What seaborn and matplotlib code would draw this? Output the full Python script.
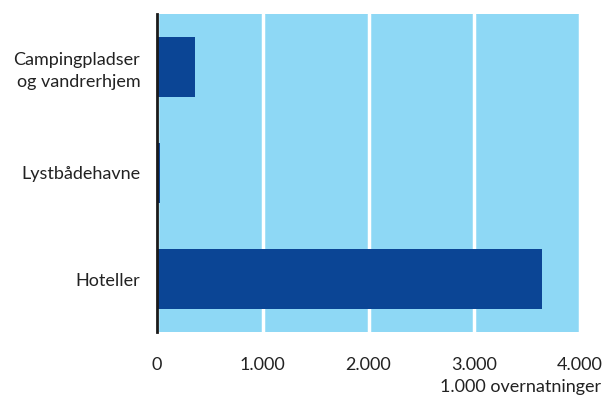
import matplotlib
matplotlib.use("Agg")
import matplotlib.pyplot as plt
import seaborn as sns
import pandas as pd

# overnatninger i 1.000
kategorier = ["Campingpladser\nog vandrerhjem", "Lystbådehavne", "Hoteller"]
overnatninger = [362, 28, 3640]
xticks = [0, 1000, 2000, 3000, 4000]
xticklabels = ["0", "1.000", "2.000", "3.000", "4.000"]

df = pd.DataFrame({"kategori": kategorier, "værdi": overnatninger})

sns.set_theme(style="white")
plt.rcParams["font.family"] = ["Lato", "DejaVu Sans"]

fig = plt.figure(figsize=(6.06, 3.98), dpi=100)
ax = fig.add_axes([157 / 606, 1 - 332 / 398, 423 / 606, 318 / 398])

ax.set_facecolor("#8ED8F5")
sns.barplot(data=df, x="værdi", y="kategori", color="#0B4595", saturation=1,
            width=0.57, linewidth=0, ax=ax, zorder=3)

ax.set_xlim(0, 4000)
ax.set_ylim(2.5, -0.5)
ax.set_xticks(xticks)
ax.set_xticklabels(xticklabels)
ax.xaxis.grid(True, color="white", linewidth=2.5, zorder=1)
ax.set_axisbelow(True)

for side in ["top", "right", "bottom"]:
    ax.spines[side].set_visible(False)
ax.spines["left"].set_color("#1a1a1a")
ax.spines["left"].set_linewidth(2)
ax.spines["left"].set_zorder(5)

ax.tick_params(axis="x", length=0, pad=18, labelsize=13, colors="#222222")
ax.tick_params(axis="y", length=0, pad=12, labelsize=13, colors="#222222")
for lab in ax.get_yticklabels():
    lab.set_horizontalalignment("right")
    lab.set_multialignment("right")
    lab.set_linespacing(1.4)
ax.set_xlabel("")
ax.set_ylabel("")

fig.text(601 / 606, 1 - 387 / 398, "1.000 overnatninger", ha="right", va="center",
         fontsize=13, color="#222222")

fig.savefig("out.png", dpi=100)
